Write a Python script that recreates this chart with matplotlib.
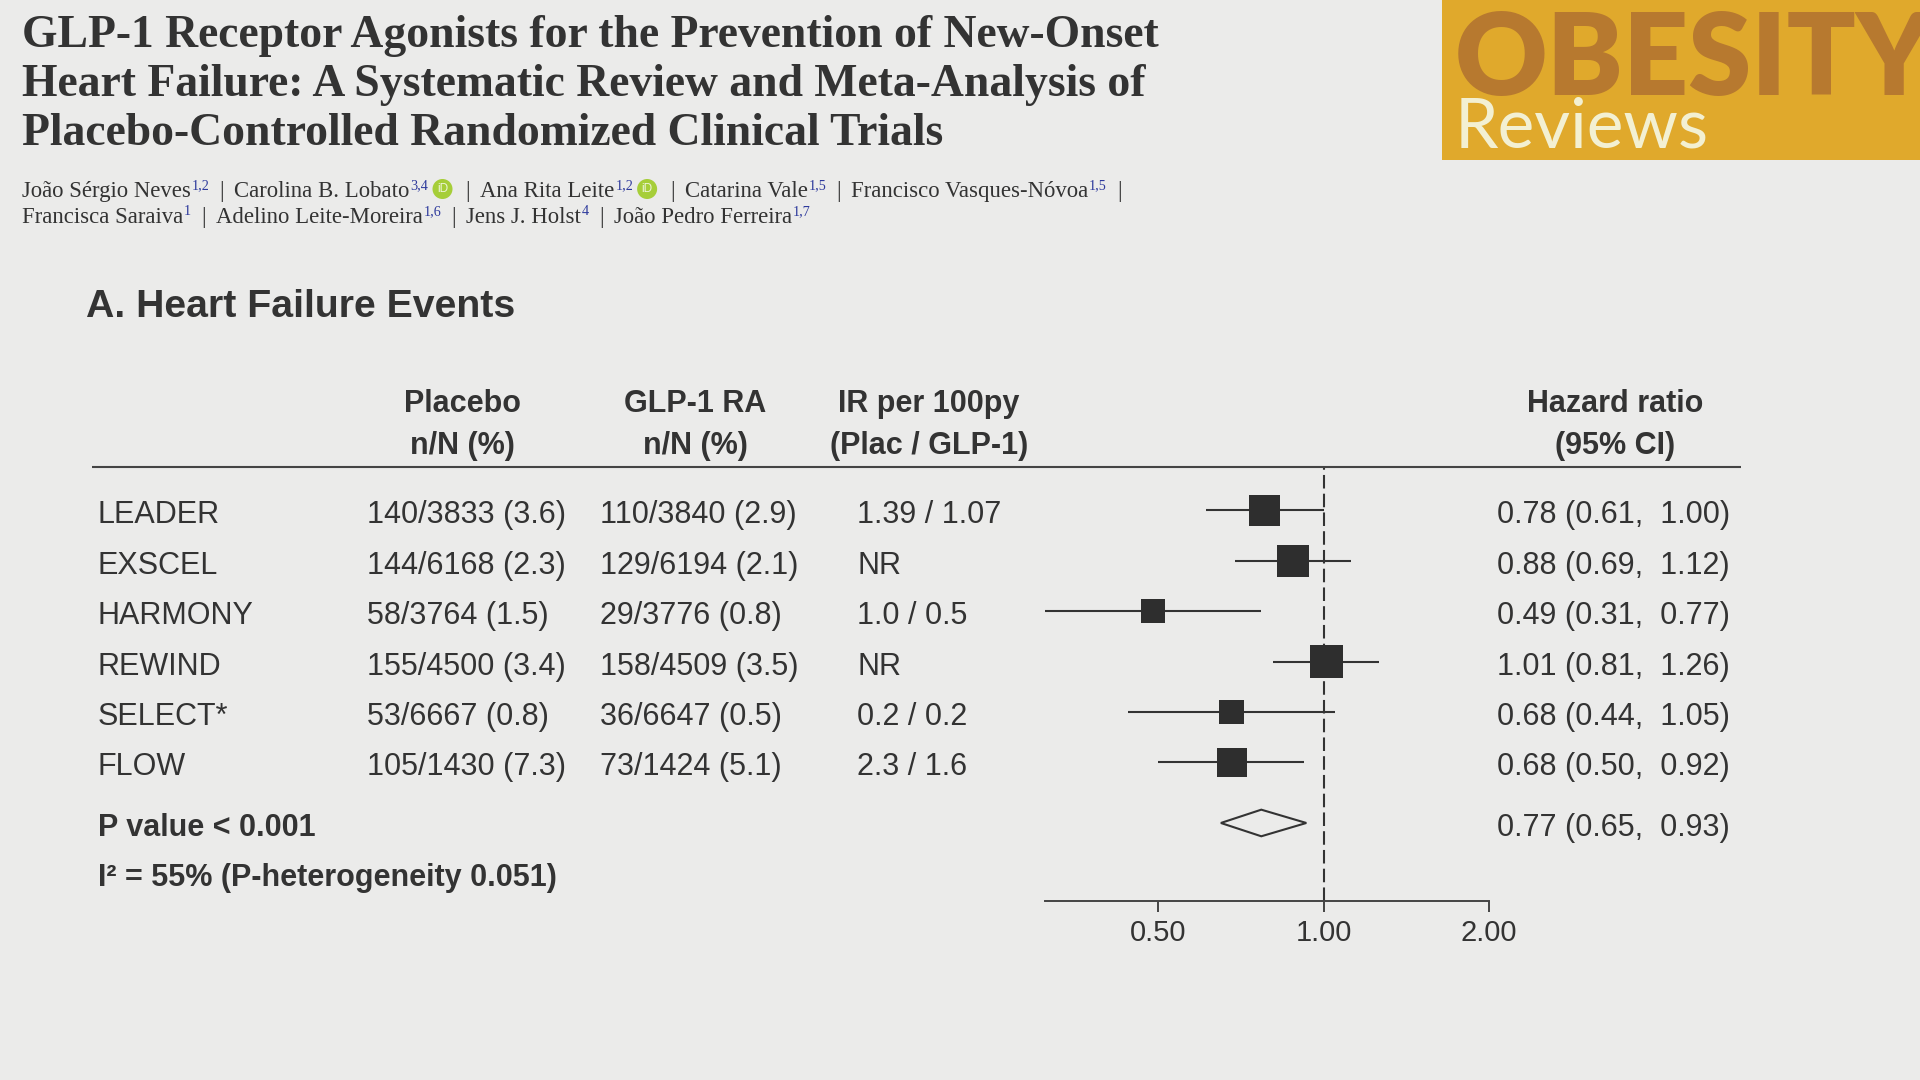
import matplotlib
matplotlib.use("Agg")
import matplotlib.pyplot as plt
import numpy as np
from matplotlib import transforms
from matplotlib.patches import Rectangle, Circle, Polygon
from matplotlib.ticker import NullLocator

# ---------------- data ----------------
title_lines = [
    "GLP-1 Receptor Agonists for the Prevention of New-Onset",
    "Heart Failure: A Systematic Review and Meta-Analysis of",
    "Placebo-Controlled Randomized Clinical Trials",
]
authors_line1 = [
    ("João Sérgio Neves", "1,2", False),
    ("Carolina B. Lobato", "3,4", True),
    ("Ana Rita Leite", "1,2", True),
    ("Catarina Vale", "1,5", False),
    ("Francisco Vasques-Nóvoa", "1,5", False),
]
authors_line2 = [
    ("Francisca Saraiva", "1", False),
    ("Adelino Leite-Moreira", "1,6", False),
    ("Jens J. Holst", "4", False),
    ("João Pedro Ferreira", "1,7", False),
]
journal_main = "OBESITY"
journal_sub = "Reviews"
panel_title = "A. Heart Failure Events"

header_placebo = ["Placebo", "n/N (%)"]
header_glp1 = ["GLP-1 RA", "n/N (%)"]
header_ir = ["IR per 100py", "(Plac / GLP-1)"]
header_hr = ["Hazard ratio", "(95% CI)"]

studies = ["LEADER", "EXSCEL", "HARMONY", "REWIND", "SELECT*", "FLOW"]
placebo_nN = ["140/3833 (3.6)", "144/6168 (2.3)", "58/3764 (1.5)",
              "155/4500 (3.4)", "53/6667 (0.8)", "105/1430 (7.3)"]
glp1_nN = ["110/3840 (2.9)", "129/6194 (2.1)", "29/3776 (0.8)",
           "158/4509 (3.5)", "36/6647 (0.5)", "73/1424 (5.1)"]
ir_per_100py = ["1.39 / 1.07", "NR", "1.0 / 0.5", "NR", "0.2 / 0.2", "2.3 / 1.6"]
hr = [0.78, 0.88, 0.49, 1.01, 0.68, 0.68]
ci_low = [0.61, 0.69, 0.31, 0.81, 0.44, 0.50]
ci_high = [1.00, 1.12, 0.77, 1.26, 1.05, 0.92]
weights = [19.2, 20.0, 11.0, 20.9, 11.7, 17.2]   # estimated from square sizes

pooled_hr, pooled_low, pooled_high = 0.77, 0.65, 0.93
p_value_text = "P value < 0.001"
i2_text = "I² = 55% (P-heterogeneity 0.051)"

x_ticks = [0.5, 1.0, 2.0]
x_tick_labels = ["0.50", "1.00", "2.00"]

# ---------------- style ----------------
W, H, DPI = 1920, 1080, 100
BG = "#EBEBEA"
INK = "#333333"
SQ = "#2E2E2E"
SUP = "#2E3A9C"
ORCID = "#A6CE39"
GOLD = "#E0A92C"
BROWN = "#B7792F"
CREAM = "#F3F0D2"
SANS = "Liberation Sans"
SERIF = "Liberation Serif"

fig = plt.figure(figsize=(W / DPI, H / DPI), dpi=DPI, facecolor=BG)
bg = fig.add_axes([0, 0, 1, 1])
bg.set_xlim(0, W)
bg.set_ylim(H, 0)
bg.axis("off")
renderer = fig.canvas.get_renderer()

# ---------------- title ----------------
for i, line in enumerate(title_lines):
    bg.text(22, 47 + i * 49, line, family=SERIF, weight="bold", fontsize=32.9,
            color=INK, va="baseline", ha="left")

# ---------------- authors ----------------
AFS = 16.4


def width_of(t):
    return t.get_window_extent(renderer).width


def draw_authors(entries, y, trailing_bar):
    x = 22
    for i, (name, sup, orcid) in enumerate(entries):
        if i > 0:
            x += 10
            t = bg.text(x, y, "|", family=SERIF, fontsize=AFS, color=INK, va="baseline")
            x += width_of(t) + 10
        t = bg.text(x, y, name, family=SERIF, fontsize=AFS, color=INK, va="baseline")
        x += width_of(t) + 1
        t = bg.text(x, y - 8, sup, family=SERIF, fontsize=AFS * 0.62, color=SUP, va="baseline")
        x += width_of(t)
        if orcid:
            r = 10
            x += 4
            bg.add_patch(Circle((x + r, y - 8), r, color=ORCID, lw=0))
            bg.text(x + r, y - 8, "iD", family=SANS, fontsize=8.5, color="#EEF5DA",
                    ha="center", va="center")
            x += 2 * r + 3
    if trailing_bar:
        x += 10
        bg.text(x, y, "|", family=SERIF, fontsize=AFS, color=INK, va="baseline")


draw_authors(authors_line1, 197, True)
draw_authors(authors_line2, 223, False)

# ---------------- journal logo ----------------
bg.add_patch(Rectangle((1442, 0), W - 1442, 160, color=GOLD, lw=0))
bg.text(1455, 95, journal_main, family="Lato", weight="heavy", fontsize=82,
        color=BROWN, va="baseline", ha="left")
bg.text(1455, 147, journal_sub, family="Lato", fontsize=50,
        color=CREAM, va="baseline", ha="left")

# ---------------- panel title ----------------
bg.text(86, 307, panel_title, family=SANS, weight="bold", fontsize=28.3,
        color=INK, va="center", ha="left")

# ---------------- forest axes ----------------
ax = fig.add_axes([1045 / W, 1 - 901 / H, 444 / W, 433 / H])
ax.patch.set_alpha(0)
ax.set_xscale("log")
ax.set_xlim(0.311, 2.0)
ax.set_ylim(7.748, -0.843)
for s in ["left", "right", "top"]:
    ax.spines[s].set_visible(False)
ax.spines["bottom"].set_linewidth(1.4)
ax.spines["bottom"].set_color("#444444")
ax.set_xticks(x_ticks)
ax.set_xticklabels(x_tick_labels, family=SANS)
ax.xaxis.set_minor_locator(NullLocator())
ax.tick_params(axis="x", direction="out", length=8, width=1.4, pad=5,
               labelsize=21, colors="#444444", labelcolor=INK)
ax.set_yticks([])

rows = np.arange(len(studies))
ax.axvline(1.0, color=INK, lw=1.5, dashes=(6.5, 2.5), zorder=1)
ax.hlines(rows, ci_low, ci_high, color=INK, lw=1.5, zorder=2)
side_pt = 5.2 * np.sqrt(np.array(weights))
ax.scatter(hr, rows, marker="s", s=side_pt ** 2, color=SQ, linewidths=0, zorder=3)

pooled_row = 6.2
i2_row = 7.2
h = 0.264
ax.add_patch(Polygon([(pooled_low, pooled_row), (pooled_hr, pooled_row - h),
                      (pooled_high, pooled_row), (pooled_hr, pooled_row + h)],
                     closed=True, facecolor=BG, edgecolor=INK, lw=1.5, zorder=3))

# ---------------- table ----------------
tr = transforms.offset_copy(transforms.blended_transform_factory(bg.transData, ax.transData),
                            fig=fig, x=0, y=-5, units="dots")
FS = 22
for i in range(len(studies)):
    bg.text(98, i, studies[i], transform=tr, family=SANS, fontsize=FS, color=INK, va="center")
    bg.text(367, i, placebo_nN[i], transform=tr, family=SANS, fontsize=FS, color=INK, va="center")
    bg.text(600, i, glp1_nN[i], transform=tr, family=SANS, fontsize=FS, color=INK, va="center")
    bg.text(857, i, ir_per_100py[i], transform=tr, family=SANS, fontsize=FS, color=INK, va="center")
    bg.text(1497, i, f"{hr[i]:.2f} ({ci_low[i]:.2f},  {ci_high[i]:.2f})", transform=tr,
            family=SANS, fontsize=FS, color=INK, va="center")

bg.text(1497, pooled_row, f"{pooled_hr:.2f} ({pooled_low:.2f},  {pooled_high:.2f})", transform=tr,
        family=SANS, fontsize=FS, color=INK, va="center")
bg.text(98, pooled_row, p_value_text, transform=tr, family=SANS, weight="bold",
        fontsize=FS, color=INK, va="center")
bg.text(98, i2_row, i2_text, transform=tr, family=SANS, weight="bold",
        fontsize=FS, color=INK, va="center")

for xc, hdr in [(462, header_placebo), (695, header_glp1), (929, header_ir), (1615, header_hr)]:
    bg.text(xc, 404, hdr[0], family=SANS, weight="bold", fontsize=FS, color=INK,
            ha="center", va="center")
    bg.text(xc, 446, hdr[1], family=SANS, weight="bold", fontsize=FS, color=INK,
            ha="center", va="center")

bg.plot([92, 1741], [467, 467], color="#444444", lw=1.5, solid_capstyle="butt")

fig.savefig("out.png", dpi=DPI, facecolor=BG)
